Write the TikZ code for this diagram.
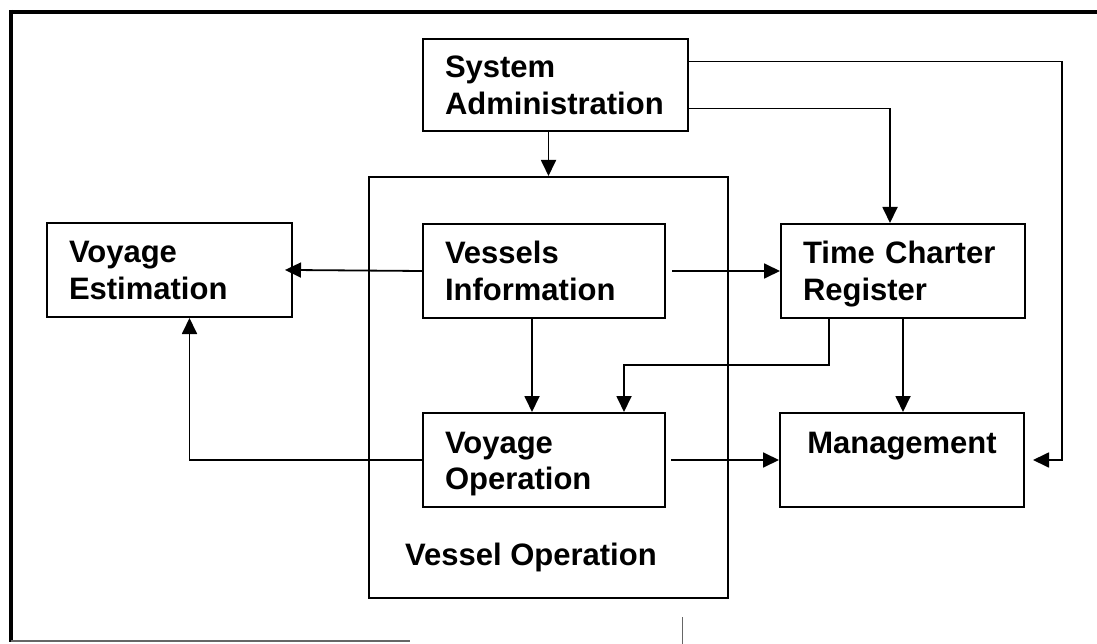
\documentclass[tikz,border=0pt]{standalone}
\usepackage{fontspec}
\setmainfont{Liberation Sans}
\usetikzlibrary{arrows.meta,calc}

\tikzset{
  txt/.style={font=\fontsize{31}{36.5}\selectfont\bfseries},
  blk/.style={txt, draw, line width=2pt, anchor=north west, inner xsep=22pt,
    inner ysep=0pt, align=left, text height=40pt, text depth=54pt},
  arr/.style={line width=1.8pt, -{Triangle[length=16pt,width=15pt]}},
}

\begin{document}
\begin{tikzpicture}[x=1pt,y=-1pt]
  \useasboundingbox (0,0) rectangle (1097,644);
  % frame
  \draw[line width=4.5pt] (9,12) -- (1097,12);
  \draw[line width=4.5pt] (11,10) -- (11,642);
  \draw[line width=2pt, black!60] (11,641) -- (410,641);
  \draw[line width=1pt, black!60] (682,617) -- (682,644);

  % vessel operation group
  \node[draw, line width=2pt, anchor=north west, inner sep=0pt,
    minimum width=359pt, minimum height=421pt] (vop) at (368,176) {};
  \node[txt, anchor=base west, inner sep=0pt] (voplbl) at (405,565) {Vessel Operation};

  % boxes
  \node[blk, text width=221pt, text height=39pt, text depth=53pt] (sa) at (422,38) {System\\Administration};
  \node[blk, text width=201pt] (ve) at (46,222) {Voyage\\Estimation};
  \node[blk, text width=198pt] (vi) at (422,223) {Vessels\\Information};
  \node[blk, text width=200pt] (tcr) at (780,223) {Time Charter\\Register};
  \node[blk, text width=198pt] (vo) at (422,412) {Voyage\\Operation};
  \node[blk, text width=200pt, align=center] (mgt) at (779,412) {Management};

  \coordinate (rt) at (1062,0);
  \coordinate (tcrout) at ($(tcr.south)+(-74,0)$);
  \coordinate (voin) at ($(vo.north)+(80,0)$);

  % connectors
  \draw[arr] (vop.north |- sa.south) -- (vop.north);
  \draw[arr, shorten >=8pt] ($(sa.north east)!.25!(sa.south east)$) -| (rt |- mgt.east) -- (mgt.east);
  \draw[arr] ($(sa.north east)!.75!(sa.south east)$) -| ($(tcr.north)+(-13,0)$);
  \draw[arr, shorten >=-8pt] (vi.west) -- (ve.east);
  \draw[arr, shorten <=6pt] (vi.east) -- (tcr.west);
  \draw[arr] ($(vi.south)+(-12,0)$) -- ($(vo.north)+(-12,0)$);
  \draw[arr] (tcrout) |- ($(voin)+(0,-47)$) -- (voin);
  \draw[arr] (tcr.south) -- (tcr.south |- mgt.north);
  \draw[arr] (vo.west) -| ($(ve.south)+(20,0)$);
  \draw[arr, shorten <=5pt] (vo.east) -- (mgt.west);
\end{tikzpicture}
\end{document}
